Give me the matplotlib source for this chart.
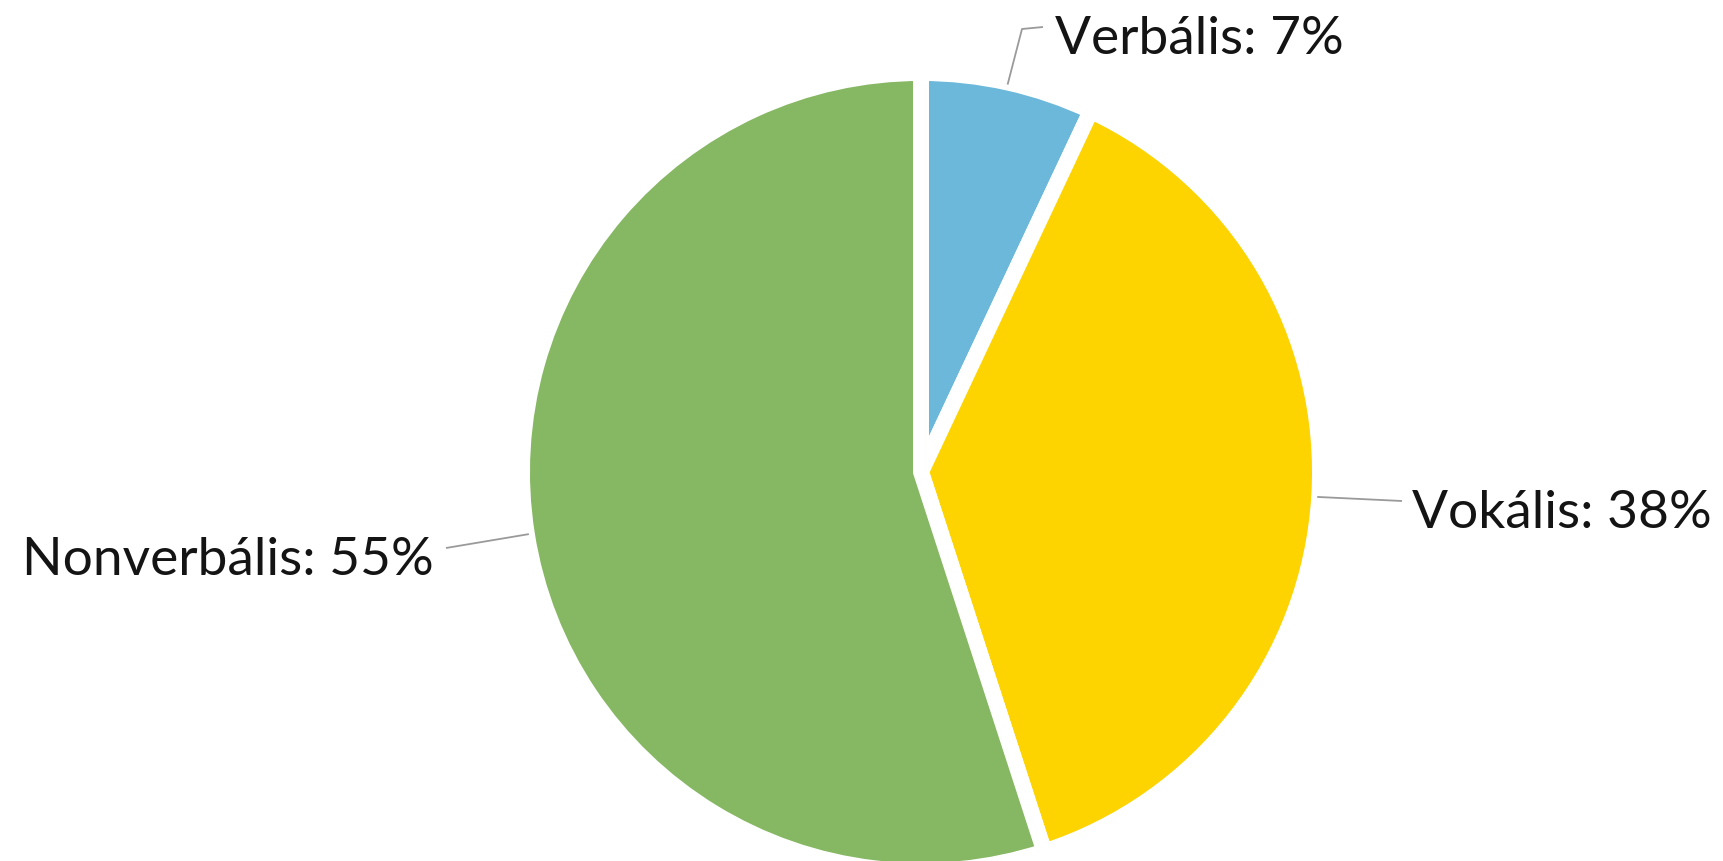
import numpy as np
import matplotlib
matplotlib.use("Agg")
import matplotlib.pyplot as plt

labels = ["Verbális", "Vokális", "Nonverbális"]
values = [7, 38, 55]
colors = ["#6BB8DB", "#FDD300", "#86B763"]

W, H = 1724, 862
fig = plt.figure(figsize=(W / 100, H / 100), dpi=100)
ax = fig.add_axes([0, 0, 1, 1])
ax.set_xlim(0, W)
ax.set_ylim(0, H)
ax.set_aspect("equal")
ax.axis("off")

cx, cy = 921, H - 473
R = 399
wedges, _ = ax.pie(values, colors=colors, startangle=90, counterclock=False,
                   center=(cx, cy), radius=R, frame=True,
                   wedgeprops=dict(edgecolor="white", linewidth=11.5))
ax.set_xlim(0, W)
ax.set_ylim(0, H)
ax.axis("off")

font = dict(family=["Lato", "DejaVu Sans"], fontsize=38.3, color="#141414")
lc = "#9a9a9a"

# label layout: (elbow points, text anchor, ha)
layout = {
    "Verbális": [((1022, 30), (1043, 28)), (1055, 35), "left"],
    "Vokális": [((1402, 502),), (1412, 509), "left"],
    "Nonverbális": [((446, 549),), (434, 556), "right"],
}

for w, lab, v in zip(wedges, labels, values):
    mid = np.deg2rad((w.theta1 + w.theta2) / 2)
    sx, sy = cx + (R - 2) * np.cos(mid), cy + (R - 2) * np.sin(mid)
    pts, tpos, ha = layout[lab]
    xs = [sx] + [p[0] for p in pts]
    ys = [sy] + [H - p[1] for p in pts]
    ax.plot(xs, ys, color=lc, lw=1.3, solid_capstyle="butt")
    ax.text(tpos[0], H - tpos[1], f"{lab}: {v}%", ha=ha, va="center_baseline", **font)

fig.savefig("out.png", dpi=100, facecolor="white")
